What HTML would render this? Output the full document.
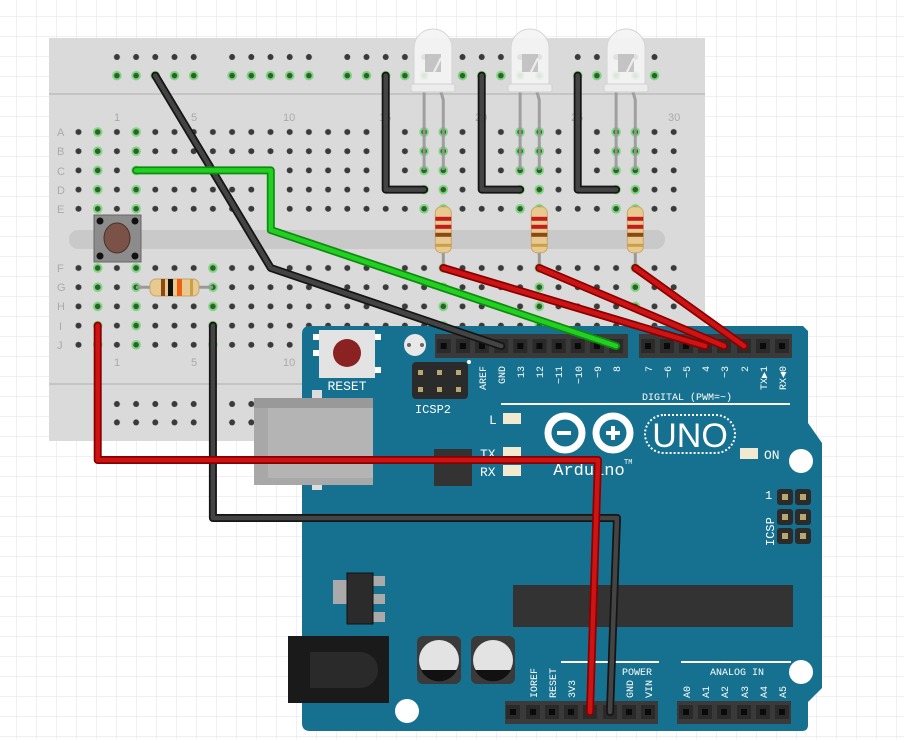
<!DOCTYPE html>
<html><head><meta charset="utf-8"><style>
html,body{margin:0;padding:0;background:#fff;width:904px;height:739px;overflow:hidden}
svg{display:block}
.t{font-family:"Liberation Mono",monospace;fill:#fff;font-size:10px}
.bl{font-family:"Liberation Sans",sans-serif;fill:#aaa;font-size:11px}
</style></head><body>
<svg width="904" height="739" viewBox="0 0 904 739" xmlns="http://www.w3.org/2000/svg">
<defs>
<pattern id="grid" x="-3" y="-3" width="20" height="20" patternUnits="userSpaceOnUse">
<path d="M20 0 V20 M0 20 H20" stroke="#dfe2ec" stroke-width="1" fill="none"/></pattern>
<pattern id="hA" x="68.9" y="122.4" width="19.2" height="19.2" patternUnits="userSpaceOnUse">
<circle cx="9.6" cy="9.6" r="3" fill="#3a3a3a"/></pattern>
<pattern id="gA" x="68.9" y="122.4" width="19.2" height="19.2" patternUnits="userSpaceOnUse">
<circle cx="9.6" cy="9.6" r="4.8" fill="#7fd67f"/><circle cx="9.6" cy="9.6" r="2.8" fill="#2e5f2e"/></pattern>
<pattern id="hF" x="68.9" y="258.4" width="19.2" height="19.2" patternUnits="userSpaceOnUse">
<circle cx="9.6" cy="9.6" r="3" fill="#3a3a3a"/></pattern>
<pattern id="gF" x="68.9" y="258.4" width="19.2" height="19.2" patternUnits="userSpaceOnUse">
<circle cx="9.6" cy="9.6" r="4.8" fill="#7fd67f"/><circle cx="9.6" cy="9.6" r="2.8" fill="#2e5f2e"/></pattern>
<pattern id="hR" x="68.9" y="47.6" width="19.2" height="18.4" patternUnits="userSpaceOnUse">
<circle cx="9.6" cy="9.4" r="3" fill="#3a3a3a"/></pattern>
<pattern id="gR" x="68.9" y="66.2" width="19.2" height="18.4" patternUnits="userSpaceOnUse">
<circle cx="9.6" cy="9.4" r="4.8" fill="#7fd67f"/><circle cx="9.6" cy="9.4" r="2.8" fill="#2e5f2e"/></pattern>
<pattern id="hB" x="68.9" y="394.6" width="19.2" height="18.4" patternUnits="userSpaceOnUse">
<circle cx="9.6" cy="9.4" r="3" fill="#3a3a3a"/></pattern>
<g id="pin"><rect x="-7" y="-7" width="14" height="14" fill="#2a2a2a"/><rect x="-3" y="-3" width="6" height="6" fill="#0a0a0a"/></g>
<g id="led"><path d="M-19 64 V20 A19 19 0 0 1 19 20 V64 Z" fill="#f4f4f4" fill-opacity="0.9" stroke="#d4d4d4"/><rect x="-22" y="56" width="44" height="8" rx="2" fill="#ececec" stroke="#d0d0d0"/><path d="M-8 26 H8 V44 H-8 Z" fill="#b8b8b8" opacity="0.8"/><path d="M1 44 L8 30" stroke="#eee" stroke-width="2"/></g>
<g id="vres"><line x1="0" y1="0" x2="0" y2="59" stroke="#999" stroke-width="3"/><rect x="-8" y="-2" width="16" height="46" rx="6" fill="#e8c98f" stroke="#c9a56a"/><rect x="-8" y="8" width="16" height="4" fill="#c41c1c"/><rect x="-8" y="16" width="16" height="4" fill="#c41c1c"/><rect x="-8" y="24" width="16" height="4" fill="#8a4a14"/><rect x="-8" y="35" width="16" height="3" fill="#c9a04a"/></g>
<g id="gpin"><rect x="-8" y="-8" width="16" height="16" rx="3" fill="#2b2b2b"/><rect x="-3" y="-3" width="6" height="6" fill="#b8a870"/></g>
</defs>
<rect width="904" height="739" fill="url(#grid)"/>

<rect x="49" y="38" width="656" height="403" fill="#dadada"/>
<line x1="49" y1="94" x2="705" y2="94" stroke="#bdbdbd" stroke-width="1.5"/>
<line x1="49" y1="384" x2="705" y2="384" stroke="#bdbdbd" stroke-width="1.5"/>
<rect x="69" y="230" width="596" height="19" rx="9" fill="#c9c9c9"/>
<g>
<rect x="107.3" y="47.6" width="96" height="18.4" fill="url(#hR)"/><rect x="222.5" y="47.6" width="96" height="18.4" fill="url(#hR)"/><rect x="337.7" y="47.6" width="96" height="18.4" fill="url(#hR)"/><rect x="452.9" y="47.6" width="96" height="18.4" fill="url(#hR)"/><rect x="568.1" y="47.6" width="96" height="18.4" fill="url(#hR)"/>
<rect x="107.3" y="66.2" width="96" height="18.4" fill="url(#gR)"/><rect x="222.5" y="66.2" width="96" height="18.4" fill="url(#gR)"/><rect x="337.7" y="66.2" width="96" height="18.4" fill="url(#gR)"/><rect x="452.9" y="66.2" width="96" height="18.4" fill="url(#gR)"/><rect x="568.1" y="66.2" width="96" height="18.4" fill="url(#gR)"/>
<rect x="107.3" y="394.6" width="96" height="36.8" fill="url(#hB)"/><rect x="222.5" y="394.6" width="96" height="36.8" fill="url(#hB)"/><rect x="337.7" y="394.6" width="96" height="36.8" fill="url(#hB)"/><rect x="452.9" y="394.6" width="96" height="36.8" fill="url(#hB)"/><rect x="568.1" y="394.6" width="96" height="36.8" fill="url(#hB)"/>
</g>
<rect x="68.9" y="122.4" width="614.4" height="96" fill="url(#hA)"/>
<rect x="68.9" y="258.4" width="614.4" height="96" fill="url(#hF)"/>
<g>
<rect x="88.1" y="122.4" width="19.2" height="96" fill="url(#gA)"/><rect x="126.5" y="122.4" width="19.2" height="96" fill="url(#gA)"/>
<rect x="414.5" y="122.4" width="38.4" height="96" fill="url(#gA)"/><rect x="510.5" y="122.4" width="38.4" height="96" fill="url(#gA)"/><rect x="606.5" y="122.4" width="38.4" height="96" fill="url(#gA)"/>
<rect x="88.1" y="258.4" width="19.2" height="96" fill="url(#gF)"/><rect x="126.5" y="258.4" width="19.2" height="96" fill="url(#gF)"/><rect x="203.3" y="258.4" width="19.2" height="96" fill="url(#gF)"/>
<rect x="433.7" y="258.4" width="19.2" height="96" fill="url(#gF)"/><rect x="529.7" y="258.4" width="19.2" height="96" fill="url(#gF)"/><rect x="625.7" y="258.4" width="19.2" height="96" fill="url(#gF)"/>
</g>
<g class="bl">
<text x="57" y="136">A</text><text x="57" y="155">B</text><text x="57" y="175">C</text><text x="57" y="194">D</text><text x="57" y="213">E</text>
<text x="57" y="272">F</text><text x="57" y="291">G</text><text x="57" y="310">H</text><text x="59" y="330">I</text><text x="57" y="349">J</text>
<text x="114" y="121">1</text><text x="191" y="121">5</text><text x="283" y="121">10</text><text x="379" y="121">15</text><text x="475" y="121">20</text><text x="571" y="121">25</text><text x="668" y="121">30</text>
<text x="114" y="366">1</text><text x="191" y="366">5</text><text x="283" y="366">10</text>
</g>
<rect x="94" y="215" width="47" height="47" fill="#8c8c8c" stroke="#666"/>
<ellipse cx="117" cy="238" rx="13" ry="15" fill="#7a5247" stroke="#4a3028"/>
<circle cx="100" cy="221" r="3.5" fill="#111"/><circle cx="135" cy="221" r="3.5" fill="#111"/><circle cx="100" cy="256" r="3.5" fill="#111"/><circle cx="135" cy="256" r="3.5" fill="#111"/>
<line x1="136" y1="287.2" x2="213" y2="287.2" stroke="#999" stroke-width="3"/>
<rect x="150" y="279" width="49" height="17" rx="6" fill="#e8c98f" stroke="#c9a56a"/>
<rect x="161" y="279" width="4" height="17" fill="#8a4a14"/><rect x="168" y="279" width="5" height="17" fill="#111"/><rect x="177" y="279" width="5" height="17" fill="#f06010"/><rect x="190" y="279" width="3" height="17" fill="#c9a04a"/>
<use href="#vres" x="443.3" y="208.8"/><use href="#vres" x="539.3" y="208.8"/><use href="#vres" x="635.3" y="208.8"/>
<g stroke="#999" stroke-width="3" fill="none" opacity="0.9">
<path d="M424.1 92 V170"/><path d="M441 92 L443.3 100 V170"/>
<path d="M520.1 92 V170"/><path d="M537 92 L539.3 100 V170"/>
<path d="M616.1 92 V170"/><path d="M633 92 L635.3 100 V170"/>
</g>
<use href="#led" x="433" y="28"/><use href="#led" x="530" y="28"/><use href="#led" x="626" y="28"/>

<path d="M310 326 H803 L808 331 V423 L822 443 V688 L808 702 V725 Q808 731 802 731 H310 Q302 731 302 723 V334 Q302 326 310 326 Z" fill="#16708f"/>
<rect x="312" y="390" width="10" height="100" fill="#ddd"/>
<rect x="254" y="398" width="119" height="87" fill="#a8a8a8"/><rect x="254" y="398" width="119" height="10" fill="#999"/>
<rect x="268" y="408" width="105" height="70" fill="#b4b4b4"/>
<rect x="319" y="330" width="56" height="48" fill="#e3e3e3"/>
<rect x="313" y="334" width="6" height="6" fill="#fff"/><rect x="313" y="350" width="6" height="6" fill="#fff"/><rect x="375" y="334" width="6" height="6" fill="#fff"/><rect x="375" y="367" width="6" height="6" fill="#fff"/>
<circle cx="347" cy="353" r="14" fill="#8b2222"/>
<text class="t" x="347" y="390" text-anchor="middle" style="font-size:13px">RESET</text>
<circle cx="415" cy="345" r="11" fill="#e8e8e8"/><circle cx="409" cy="345" r="2" fill="#666"/><circle cx="422" cy="345" r="2" fill="#666"/>
<rect x="412" y="362" width="56" height="37" rx="4" fill="#2b2b2b"/>
<rect x="418" y="370" width="5" height="5" fill="#b8a870"/><rect x="437" y="370" width="5" height="5" fill="#b8a870"/><rect x="456" y="370" width="5" height="5" fill="#b8a870"/>
<rect x="418" y="387" width="5" height="5" fill="#b8a870"/><rect x="437" y="387" width="5" height="5" fill="#b8a870"/><rect x="456" y="387" width="5" height="5" fill="#b8a870"/>
<text class="t" x="433" y="413" text-anchor="middle" style="font-size:12px">ICSP2</text>
<circle cx="469" cy="362" r="2" fill="#fff"/>
<rect x="435" y="334" width="193" height="24" fill="#3a3a3a"/>
<rect x="639" y="334" width="153" height="24" fill="#3a3a3a"/>
<g>
<use href="#pin" x="443.7" y="346"/><use href="#pin" x="462.9" y="346"/><use href="#pin" x="482" y="346"/><use href="#pin" x="501.2" y="346"/><use href="#pin" x="520.3" y="346"/><use href="#pin" x="539.5" y="346"/><use href="#pin" x="558.7" y="346"/><use href="#pin" x="577.8" y="346"/><use href="#pin" x="597" y="346"/><use href="#pin" x="616.1" y="346"/>
<use href="#pin" x="648" y="346"/><use href="#pin" x="667" y="346"/><use href="#pin" x="686" y="346"/><use href="#pin" x="705" y="346"/><use href="#pin" x="724" y="346"/><use href="#pin" x="744" y="346"/><use href="#pin" x="763" y="346"/><use href="#pin" x="782" y="346"/>
</g>
<g class="t">
<text transform="translate(486,366) rotate(-90)" text-anchor="end">AREF</text>
<text transform="translate(505,366) rotate(-90)" text-anchor="end">GND</text>
<text transform="translate(524,366) rotate(-90)" text-anchor="end">13</text>
<text transform="translate(543,366) rotate(-90)" text-anchor="end">12</text>
<text transform="translate(562,366) rotate(-90)" text-anchor="end">~11</text>
<text transform="translate(582,366) rotate(-90)" text-anchor="end">~10</text>
<text transform="translate(601,366) rotate(-90)" text-anchor="end">~9</text>
<text transform="translate(620,366) rotate(-90)" text-anchor="end">8</text>
<text transform="translate(652,366) rotate(-90)" text-anchor="end">7</text>
<text transform="translate(671,366) rotate(-90)" text-anchor="end">~6</text>
<text transform="translate(690,366) rotate(-90)" text-anchor="end">~5</text>
<text transform="translate(709,366) rotate(-90)" text-anchor="end">4</text>
<text transform="translate(728,366) rotate(-90)" text-anchor="end">~3</text>
<text transform="translate(748,366) rotate(-90)" text-anchor="end">2</text>
<text transform="translate(767,366) rotate(-90)" text-anchor="end">TX▶1</text>
<text transform="translate(786,366) rotate(-90)" text-anchor="end">RX◀0</text>
<text x="642" y="400">DIGITAL (PWM=~)</text>
</g>
<rect x="501" y="403" width="289" height="2" fill="#fff"/>
<rect x="503" y="413" width="18" height="11" fill="#f2ead0"/><text class="t" x="489" y="424" style="font-size:13px">L</text>
<rect x="503" y="447" width="18" height="11" fill="#f2ead0"/><text class="t" x="480" y="458" style="font-size:13px">TX</text>
<rect x="503" y="465" width="18" height="11" fill="#f2ead0"/><text class="t" x="480" y="476" style="font-size:13px">RX</text>
<rect x="740" y="448" width="18" height="11" fill="#f2ead0"/><text class="t" x="764" y="459" style="font-size:13px">ON</text>
<rect x="434" y="449" width="38" height="37" fill="#333"/>
<circle cx="565" cy="433" r="17" fill="none" stroke="#fff" stroke-width="7"/>
<circle cx="613" cy="433" r="17" fill="none" stroke="#fff" stroke-width="7"/>
<rect x="557" y="431" width="14" height="4" fill="#fff"/>
<rect x="606" y="431" width="14" height="4" fill="#fff"/><rect x="611" y="426" width="4" height="14" fill="#fff"/>
<rect x="645" y="415" width="90" height="38" rx="19" fill="none" stroke="#fff" stroke-width="2" stroke-dasharray="2 2"/>
<text x="690" y="447" text-anchor="middle" font-family="Liberation Sans,sans-serif" font-size="34" fill="#fff">UNO</text>
<text class="t" x="589" y="475" text-anchor="middle" style="font-size:17px">Arduino</text><text class="t" x="624" y="464" style="font-size:7px">TM</text>
<circle cx="801" cy="461" r="12" fill="#fff"/><circle cx="801" cy="672" r="12" fill="#fff"/><circle cx="407" cy="711" r="12" fill="#fff"/>
<use href="#gpin" x="785" y="497"/><use href="#gpin" x="803" y="497"/><use href="#gpin" x="785" y="517"/><use href="#gpin" x="803" y="517"/><use href="#gpin" x="785" y="536"/><use href="#gpin" x="803" y="536"/>
<text class="t" x="765" y="499" style="font-size:12px">1</text>
<text class="t" transform="translate(774,546) rotate(-90)" style="font-size:12px">ICSP</text>
<rect x="513" y="585" width="280" height="42" fill="#333"/>
<rect x="333" y="580" width="14" height="24" fill="#aaa"/>
<rect x="365" y="576" width="20" height="10" fill="#aaa"/><rect x="365" y="594" width="20" height="10" fill="#aaa"/><rect x="365" y="612" width="20" height="10" fill="#aaa"/>
<rect x="347" y="573" width="26" height="51" fill="#2b2b2b" stroke="#111"/>
<rect x="288" y="636" width="101" height="67" fill="#1a1a1a"/>
<path d="M310 652 H360 A18 18 0 0 1 360 688 H310 Z" fill="#2a2a2a"/>
<rect x="417" y="636" width="44" height="48" rx="6" fill="#3a3a3a"/><rect x="471" y="636" width="44" height="48" rx="6" fill="#3a3a3a"/>
<circle cx="439" cy="660" r="20" fill="#e3e3e3"/><path d="M421 670 H457 A20 20 0 0 1 421 670 Z" fill="#111"/>
<circle cx="493" cy="660" r="20" fill="#e3e3e3"/><path d="M475 670 H511 A20 20 0 0 1 475 670 Z" fill="#111"/>
<rect x="505" y="701" width="153" height="23" fill="#3a3a3a"/>
<rect x="677" y="701" width="114" height="23" fill="#3a3a3a"/>
<g>
<use href="#pin" x="513" y="712"/><use href="#pin" x="533" y="712"/><use href="#pin" x="552" y="712"/><use href="#pin" x="571" y="712"/><use href="#pin" x="590" y="712"/><use href="#pin" x="610" y="712"/><use href="#pin" x="629" y="712"/><use href="#pin" x="648" y="712"/>
<use href="#pin" x="686" y="712"/><use href="#pin" x="705" y="712"/><use href="#pin" x="724" y="712"/><use href="#pin" x="744" y="712"/><use href="#pin" x="763" y="712"/><use href="#pin" x="782" y="712"/>
</g>
<rect x="561" y="661" width="98" height="2" fill="#fff"/><rect x="681" y="661" width="110" height="2" fill="#fff"/>
<g class="t">
<text x="622" y="675">POWER</text><text x="710" y="675">ANALOG IN</text>
<text transform="translate(537,698) rotate(-90)">IOREF</text>
<text transform="translate(556,698) rotate(-90)">RESET</text>
<text transform="translate(575,698) rotate(-90)">3V3</text>
<text transform="translate(633,698) rotate(-90)">GND</text>
<text transform="translate(652,698) rotate(-90)">VIN</text>
<text transform="translate(690,698) rotate(-90)">A0</text>
<text transform="translate(709,698) rotate(-90)">A1</text>
<text transform="translate(728,698) rotate(-90)">A2</text>
<text transform="translate(748,698) rotate(-90)">A3</text>
<text transform="translate(767,698) rotate(-90)">A4</text>
<text transform="translate(786,698) rotate(-90)">A5</text>
</g>

<g fill="none" stroke-linecap="round" stroke-linejoin="round">
<g stroke="#151515" stroke-width="8">
<path d="M385.7 75.6 V189.6 H424.1"/><path d="M481.7 75.6 V189.6 H520.1"/><path d="M577.7 75.6 V189.6 H616.1"/>
<path d="M155.3 75.6 L270.8 268 L501.2 346"/>
<path d="M212.9 325.6 V518 H617 L610 712"/>
</g>
<g stroke="#444" stroke-width="4.5">
<path d="M385.7 75.6 V189.6 H424.1"/><path d="M481.7 75.6 V189.6 H520.1"/><path d="M577.7 75.6 V189.6 H616.1"/>
<path d="M155.3 75.6 L270.8 268 L501.2 346"/>
<path d="M212.9 325.6 V518 H617 L610 712"/>
</g>
<g stroke="#118a11" stroke-width="8"><path d="M136.1 170.4 H270.8 V230 L616.1 346"/></g>
<g stroke="#22d022" stroke-width="4.5"><path d="M136.1 170.4 H270.8 V230 L616.1 346"/></g>
<g stroke="#8a0000" stroke-width="8">
<path d="M443.3 268 L705 346"/><path d="M539.3 268 L724 346"/><path d="M635.3 268 L744 346"/>
<path d="M97.7 325.6 V460 H598 L590 712"/>
</g>
<g stroke="#cc1414" stroke-width="4.5">
<path d="M443.3 268 L705 346"/><path d="M539.3 268 L724 346"/><path d="M635.3 268 L744 346"/>
<path d="M97.7 325.6 V460 H598 L590 712"/>
</g>
</g>
</svg>
</body></html>
